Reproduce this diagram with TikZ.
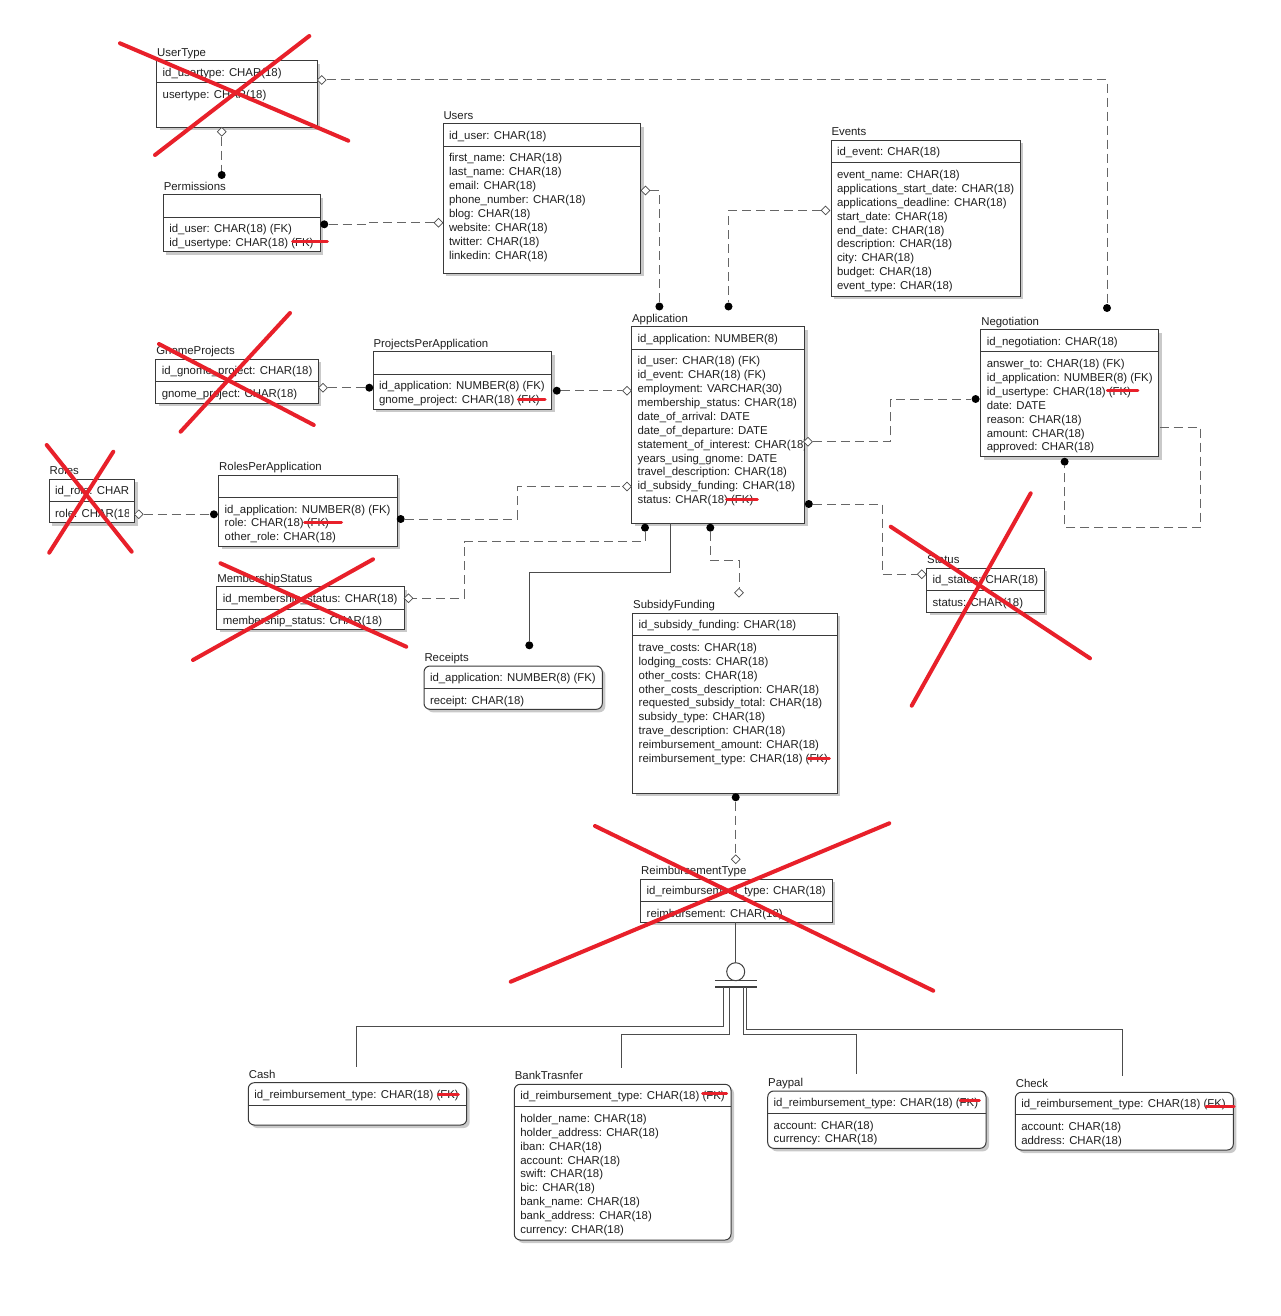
\documentclass[tikz,border=0pt]{standalone}
\usepackage{fontspec}
\setmainfont{Liberation Sans}
\usetikzlibrary{shapes.geometric,fit,shadows}
\definecolor{xred}{HTML}{E8202A}
\definecolor{boxc}{HTML}{3A3A3A}
\definecolor{connc}{HTML}{666666}
\tikzset{
  ebox/.style={draw=boxc, line width=0.5pt, fill=white, inner sep=0pt,
    drop shadow={shadow xshift=1.5pt, shadow yshift=-1.5pt, fill=black!60, opacity=0.35}},
  rbox/.style={ebox, rounded corners=3pt},
  txt/.style={inner sep=0pt, outer sep=0pt, font=\fontsize{5.7}{7}\selectfont, text=black!88},
  sepline/.style={draw=boxc, line width=0.5pt},
  conn/.style={draw=connc, line width=0.5pt, dash pattern=on 4.5pt off 2.5pt},
  sline/.style={draw=black!70, line width=0.5pt},
  dot/.style={circle, fill=black, inner sep=0pt, minimum size=4pt},
  dia/.style={diamond, draw=black!70, fill=white, line width=0.35pt, inner sep=0pt, minimum size=4.5pt},
  genc/.style={circle, draw=black!75, line width=0.5pt, inner sep=0pt, minimum size=9pt},
  genbar/.style={draw=black!75, line width=0.8pt},
  redx/.style={draw=xred, line width=2pt, line cap=round},
  redstrike/.style={draw=xred, line width=1.5pt, line cap=round},
}
% #1 id, #2 title, #3 x1, #4 y1, #5 x2, #6 y2, #7 style
\newcommand\erent[7]{%
  \coordinate (#1-nw) at (#3,#4);
  \coordinate (#1-se) at (#5,#6);
  \node[#7, fit=(#1-nw)(#1-se)] (#1) {};
  \draw[sepline] (#3,#4+22.3) -- (#5,#4+22.3);
  \node[txt, anchor=base west] (#1-title) at (#3+0.5,#4-4.5) {#2};
}
\newcommand\erpk[4]{\node[txt, anchor=base west] (#1-pk) at (#2+6,#3+15.5) {#4};}
\newcommand\erattrs[4]{\foreach \t [count=\i from 0] in {#4} {\node[txt, anchor=base west] (#1-a\i) at (#2+6,#3+38+\i*13.9) {\t};}}

\begin{document}
\begin{tikzpicture}[x=0.5pt,y=-0.5pt]
\fill[white] (0,0) rectangle (1280,1316);
\useasboundingbox (0,0) rectangle (1280,1316);

% ---------- entities ----------
\erent{ut}{UserType}{156.7}{60.7}{317.3}{127.3}{ebox}
\erpk{ut}{156.7}{60.7}{id\_usertype: CHAR(18)}
\erattrs{ut}{156.7}{60.7}{usertype: CHAR(18)}

\erent{perm}{Permissions}{163.3}{195}{320}{251.7}{ebox}
\erattrs{perm}{163.3}{195}{id\_user: CHAR(18) (FK), id\_usertype: CHAR(18) (FK)}

\erent{users}{Users}{443}{124}{640.6}{273.3}{ebox}
\erpk{users}{443}{124}{id\_user: CHAR(18)}
\erattrs{users}{443}{124}{first\_name: CHAR(18), last\_name: CHAR(18), email: CHAR(18), phone\_number: CHAR(18), blog: CHAR(18), website: CHAR(18), twitter: CHAR(18), linkedin: CHAR(18)}

\erent{ev}{Events}{831}{140.5}{1020}{296}{ebox}
\erpk{ev}{831}{140.5}{id\_event: CHAR(18)}
\erattrs{ev}{831}{140.5}{event\_name: CHAR(18), applications\_start\_date: CHAR(18), applications\_deadline: CHAR(18), start\_date: CHAR(18), end\_date: CHAR(18), description: CHAR(18), city: CHAR(18), budget: CHAR(18), event\_type: CHAR(18)}

\erent{app}{Application}{631.6}{326.7}{804.8}{523.3}{ebox}
\erpk{app}{631.6}{326.7}{id\_application: NUMBER(8)}
\begin{scope}
\clip (632,350) rectangle (804,522);
\erattrs{app}{631.6}{326.7}{id\_user: CHAR(18) (FK), id\_event: CHAR(18) (FK), employment: VARCHAR(30), membership\_status: CHAR(18), date\_of\_arrival: DATE, date\_of\_departure: DATE, statement\_of\_interest: CHAR(18), years\_using\_gnome: DATE, travel\_description: CHAR(18), id\_subsidy\_funding: CHAR(18), status: CHAR(18) (FK)}
\end{scope}

\erent{neg}{Negotiation}{980.8}{329.5}{1158.7}{456.7}{ebox}
\erpk{neg}{980.8}{329.5}{id\_negotiation: CHAR(18)}
\erattrs{neg}{980.8}{329.5}{answer\_to: CHAR(18) (FK), id\_application: NUMBER(8) (FK), id\_usertype: CHAR(18) (FK), date: DATE, reason: CHAR(18), amount: CHAR(18), approved: CHAR(18)}

\erent{gp}{GnomeProjects}{155.8}{359.3}{318.2}{403.3}{ebox}
\erpk{gp}{155.8}{359.3}{id\_gnome\_project: CHAR(18)}
\erattrs{gp}{155.8}{359.3}{gnome\_project: CHAR(18)}

\erent{ppa}{ProjectsPerApplication}{373}{351.7}{551.7}{409.3}{ebox}
\erattrs{ppa}{373}{351.7}{id\_application: NUMBER(8) (FK), gnome\_project: CHAR(18) (FK)}

\erent{roles}{Roles}{49.2}{479}{134.7}{522.7}{ebox}
\begin{scope}
\clip (50,480) rectangle (128.5,522);
\erpk{roles}{49.2}{479}{id\_role: CHAR(18)}
\erattrs{roles}{49.2}{479}{role: CHAR(18)}
\end{scope}

\erent{rpa}{RolesPerApplication}{218.7}{475}{397}{546}{ebox}
\erattrs{rpa}{218.7}{475}{id\_application: NUMBER(8) (FK), role: CHAR(18) (FK), other\_role: CHAR(18)}

\erent{ms}{MembershipStatus}{216.8}{586.7}{404.4}{629.3}{ebox}
\erpk{ms}{216.8}{586.7}{id\_membership\_status: CHAR(18)}
\erattrs{ms}{216.8}{586.7}{membership\_status: CHAR(18)}

\erent{st}{Status}{926.7}{568.3}{1044}{612.3}{ebox}
\erpk{st}{926.7}{568.3}{id\_status: CHAR(18)}
\erattrs{st}{926.7}{568.3}{status: CHAR(18)}

\erent{rec}{Receipts}{424}{666}{602.3}{709.3}{rbox}
\erpk{rec}{424}{666}{id\_application: NUMBER(8) (FK)}
\erattrs{rec}{424}{666}{receipt: CHAR(18)}

\erent{sf}{SubsidyFunding}{632.7}{613.3}{837.3}{793.3}{ebox}
\erpk{sf}{632.7}{613.3}{id\_subsidy\_funding: CHAR(18)}
\erattrs{sf}{632.7}{613.3}{trave\_costs: CHAR(18), lodging\_costs: CHAR(18), other\_costs: CHAR(18), other\_costs\_description: CHAR(18), requested\_subsidy\_total: CHAR(18), subsidy\_type: CHAR(18), trave\_description: CHAR(18), reimbursement\_amount: CHAR(18), reimbursement\_type: CHAR(18) (FK)}

\erent{rt}{ReimbursementType}{640.7}{879}{832.3}{922.3}{ebox}
\erpk{rt}{640.7}{879}{id\_reimbursement\_type: CHAR(18)}
\erattrs{rt}{640.7}{879}{reimbursement: CHAR(18)}

\erent{cash}{Cash}{248.3}{1082.7}{466.7}{1125}{rbox}
\erpk{cash}{248.3}{1082.7}{id\_reimbursement\_type: CHAR(18) (FK)}

\erent{bt}{BankTrasnfer}{514.3}{1084.3}{731}{1240}{rbox}
\erpk{bt}{514.3}{1084.3}{id\_reimbursement\_type: CHAR(18) (FK)}
\erattrs{bt}{514.3}{1084.3}{holder\_name: CHAR(18), holder\_address: CHAR(18), iban: CHAR(18), account: CHAR(18), swift: CHAR(18), bic: CHAR(18), bank\_name: CHAR(18), bank\_address: CHAR(18), currency: CHAR(18)}

\erent{pp}{Paypal}{767.7}{1091}{986}{1148.3}{rbox}
\erpk{pp}{767.7}{1091}{id\_reimbursement\_type: CHAR(18) (FK)}
\erattrs{pp}{767.7}{1091}{account: CHAR(18), currency: CHAR(18)}

\erent{chk}{Check}{1015.3}{1092.3}{1233.3}{1150}{rbox}
\erpk{chk}{1015.3}{1092.3}{id\_reimbursement\_type: CHAR(18) (FK)}
\erattrs{chk}{1015.3}{1092.3}{account: CHAR(18), address: CHAR(18)}

% ---------- connector ends ----------
\node[dia] (utR) at (321.7,80) {};
\node[dot] (negT) at (1107,308) {};
\node[dia] (utB) at (221.7,131.7) {};
\node[dot] (permT) at (221.7,175) {};
\node[dot] (permR) at (324.3,224.3) {};
\node[dia] (usersL) at (438.5,222.7) {};
\node[dia] (usersR) at (645.4,190.5) {};
\node[dot] (appT1) at (659.4,306.5) {};
\node[dia] (evL) at (825.5,210.4) {};
\node[dot] (appT2) at (728.5,306.5) {};
\node[dia] (gpR) at (323,387.7) {};
\node[dot] (ppaL) at (369.3,387.7) {};
\node[dot] (ppaR) at (556.8,390.7) {};
\node[dia] (appL1) at (627,390.7) {};
\node[dia] (rolesR) at (138.8,514.3) {};
\node[dot] (rpaL) at (213.9,514.3) {};
\node[dot] (rpaR) at (400.7,519) {};
\node[dia] (appL2) at (627,486.5) {};
\node[dia] (appR1) at (808,441.7) {};
\node[dot] (negL) at (975.6,399) {};
\node[dot] (appR2) at (808.8,504) {};
\node[dia] (stL) at (921.7,574.3) {};
\node[dot] (negB) at (1064.6,461.7) {};
\node[dot] (appB1) at (645,527.7) {};
\node[dia] (msR) at (408.5,598.3) {};
\node[dot] (appB2) at (710.3,527.7) {};
\node[dia] (sfT) at (739,592.7) {};
\node[dot] (recT) at (529.3,645.3) {};
\node[dot] (sfB) at (735.7,797.3) {};
\node[dia] (rtT) at (735.7,859.3) {};
\node[genc] (gen) at (735.7,971.7) {};

\coordinate (j3) at (366.7,224.3);
\coordinate (b9) at (517.2,519);
\coordinate (b10) at (890.6,441.7);
\coordinate (b11) at (882.7,504);
\coordinate (negR) at (1159.5,427.3);
\coordinate (b12a) at (1200.2,427.3);
\coordinate (b12b) at (1200.2,527.7);
\coordinate (b13a) at (645,541.7);
\coordinate (b13b) at (464.3,541.7);
\coordinate (b14) at (710.3,560);
\coordinate (appB3) at (670,523.3);
\coordinate (b15) at (670,572.7);
\coordinate (rtB) at (735.7,922.3);

% ---------- connectors ----------
\draw[conn] (utR) -| (negT);
\draw[conn] (utB) -- (permT);
\draw[conn] (permR) -- (j3) |- (usersL);
\draw[conn] (usersR) -| (appT1);
\draw[conn] (evL) -| (appT2);
\draw[conn] (gpR) -- (ppaL);
\draw[conn] (ppaR) -- (appL1);
\draw[conn] (rolesR) -- (rpaL);
\draw[conn] (rpaR) -- (b9) |- (appL2);
\draw[conn] (appR1) -- (b10) |- (negL);
\draw[conn] (appR2) -- (b11) |- (stL);
\draw[conn] (negR) -- (b12a) -- (b12b) -| (negB);
\draw[conn] (appB1) -- (b13a) -- (b13b) |- (msR);
\draw[conn] (appB2) -- (b14) -| (sfT);
\draw[sline] (appB3) -- (b15) -| (recT);
\draw[conn] (sfB) -- (rtT);
\draw[sline] (rtB) -- (gen);

% generalization bars and branches
\coordinate (barL) at (715,980.3);
\coordinate (barR) at (756.7,980.3);
\coordinate (bar2L) at (715,986.7);
\coordinate (bar2R) at (756.7,986.7);
\draw[genbar] (barL) -- (barR);
\draw[genbar] (bar2L) -- (bar2R);
\coordinate (g1) at (723.7,987);
\coordinate (g2) at (729,987);
\coordinate (g3) at (743.5,987);
\coordinate (g4) at (746.7,987);
\coordinate (k1) at (356.8,1026);
\coordinate (k2) at (621.9,1034);
\coordinate (k3) at (856.5,1034);
\coordinate (k4) at (1122.7,1029.3);
\coordinate (cashT) at (356.8,1066.7);
\coordinate (btT) at (621.9,1068.3);
\coordinate (ppT) at (856.5,1074);
\coordinate (chkT) at (1122.7,1076);
\draw[sline] (g1) |- (k1) -- (cashT);
\draw[sline] (g2) |- (k2) -- (btT);
\draw[sline] (g3) |- (k3) -- (ppT);
\draw[sline] (g4) |- (k4) -- (chkT);

% ---------- red marks ----------
\draw[redx] (120,43.3) -- (348.3,140.7);
\draw[redx] (309.3,36) -- (155,155);
\draw[redx] (159,344) -- (313.8,425);
\draw[redx] (290,313) -- (180.6,431.7);
\draw[redx] (46.7,445) -- (131.7,551.7);
\draw[redx] (113.3,451.7) -- (49.2,552.7);
\draw[redx] (220.5,563.3) -- (406.3,646.7);
\draw[redx] (373,559.3) -- (193,660);
\draw[redx] (890.7,526.7) -- (1090,658.3);
\draw[redx] (1030.7,493.3) -- (911.7,705.7);
\draw[redx] (595,826) -- (933.3,990.7);
\draw[redx] (889.3,823.3) -- (510.7,981.7);

\draw[redstrike] (292.7,241.7) -- (327.3,241.7);
\draw[redstrike] (518.4,399) -- (545,399);
\draw[redstrike] (304.5,522.7) -- (341.5,522.7);
\draw[redstrike] (726.5,499.3) -- (757.4,499.3);
\draw[redstrike] (1107.3,390.7) -- (1137.8,390.7);
\draw[redstrike] (808.3,758.3) -- (829.3,758.3);
\draw[redstrike] (438.3,1094) -- (458.3,1094);
\draw[redstrike] (702.7,1093.3) -- (726.7,1093.3);
\draw[redstrike] (960,1100.7) -- (979.3,1100.7);
\draw[redstrike] (1206,1106) -- (1234,1106);
\end{tikzpicture}
\end{document}
